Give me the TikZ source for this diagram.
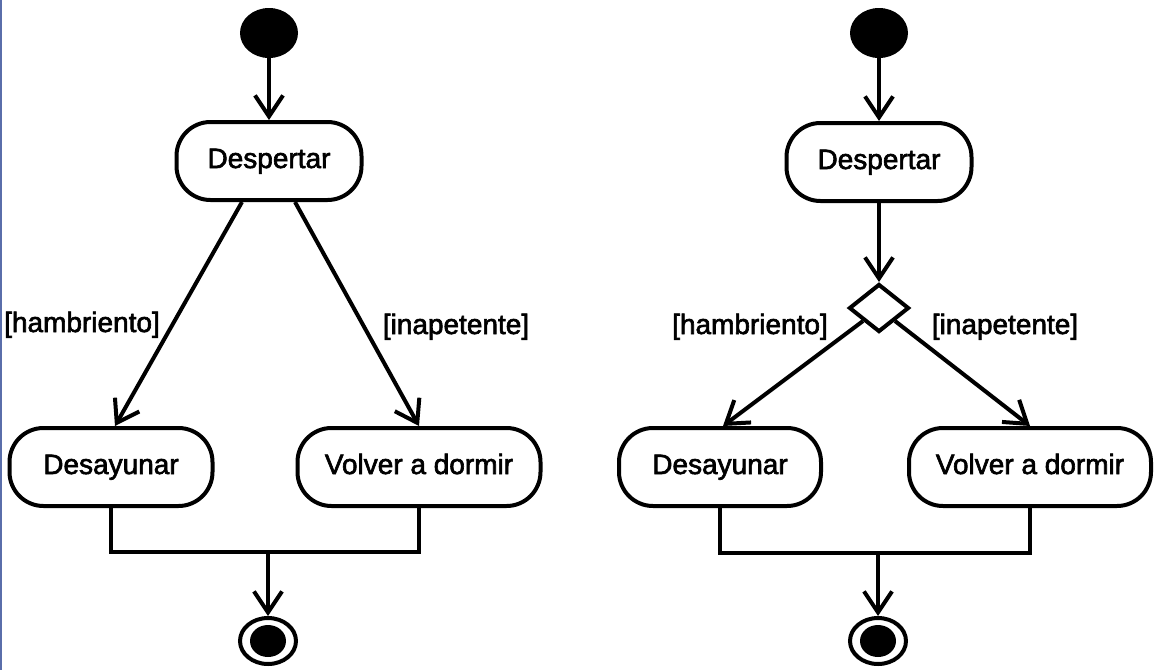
\documentclass[tikz,border=0pt]{standalone}
\usepackage{fontspec}
\setmainfont{Liberation Sans}
\newfontfamily\heavyfont[FakeBold=2.2]{Liberation Sans}
\usetikzlibrary{arrows.meta,shapes.geometric,calc}
\definecolor{edgeblue}{RGB}{90,110,170}
\begin{document}
\begin{tikzpicture}[x=1pt,y=-1pt,
  lw/.style={line width=4pt},
  act/.style={draw, line width=4pt, rounded corners=34pt, minimum height=78pt,
    inner sep=0pt, text height=20pt, text depth=6pt,
    font=\heavyfont\fontsize{28}{32}\selectfont},
  lbl/.style={inner sep=0pt, text height=20pt, text depth=6pt,
    font=\heavyfont\fontsize{28}{32}\selectfont},
  flow/.style={line width=4pt, -{Straight Barb[length=21pt,width=28pt,line width=4pt]}},
  startnode/.style={ellipse, fill=black, minimum width=58pt, minimum height=50pt, inner sep=0pt},
  endnode/.style={ellipse, draw, line width=4pt, minimum width=56pt, minimum height=46pt, inner sep=0pt},
  decision/.style={diamond, draw, line width=4pt, minimum width=60pt, minimum height=48pt, inner sep=0pt}
]
\useasboundingbox (0,0) rectangle (1163,670);
\fill[white] (0,0) rectangle (1163,670);
\draw[line width=2pt, edgeblue] (1,0) -- (1,670);

% ---------- left diagram ----------
\node[startnode] (s1) at (269,33) {};
\node[act, minimum width=185pt] (d1) at (269,161) {Despertar};
\node[act, minimum width=203pt] (ds1) at (111,467) {Desayunar};
\node[act, minimum width=243pt] (v1) at (419,467) {Volver a dormir};
\node[endnode] (e1) at (268,641) {};
\fill (e1.center) ellipse (18pt and 16pt);
\coordinate (b1) at (268,552);
\node[lbl] (h1) at (82,325) {[hambriento]};
\node[lbl] (i1) at (456,327) {[inapetente]};

\draw[flow] (s1) -- (d1);
\draw[flow] ($(d1.south)+(-27,0)$) -- ($(ds1.north)+(4,0)$);
\draw[flow] ($(d1.south)+(26,0)$) -- (v1.north);
\draw[lw] (ds1.south) |- (b1) -| (v1.south);
\draw[flow] (b1) -- (e1.north);

% ---------- right diagram ----------
\node[startnode] (s2) at (879,33) {};
\node[act, minimum width=185pt] (d2) at (879,162) {Despertar};
\node[decision] (dm) at (879,308) {};
\node[act, minimum width=202pt] (ds2) at (720,467) {Desayunar};
\node[act, minimum width=242pt] (v2) at (1030,467) {Volver a dormir};
\node[endnode] (e2) at (878,641) {};
\fill (e2.center) ellipse (18pt and 16pt);
\coordinate (b2) at (878,553);
\node[lbl] (h2) at (750,327) {[hambriento]};
\node[lbl] (i2) at (1005,327) {[inapetente]};

\draw[flow] (s2) -- (d2);
\draw[flow] (d2.south) -- (dm.north);
\draw[flow] (dm.south west) -- ($(ds2.north)+(3,0)$);
\draw[flow] (dm.south east) -- (v2.north);
\draw[lw] (ds2.south) |- (b2) -| (v2.south);
\draw[flow] (b2) -- (e2.north);
\end{tikzpicture}
\end{document}
